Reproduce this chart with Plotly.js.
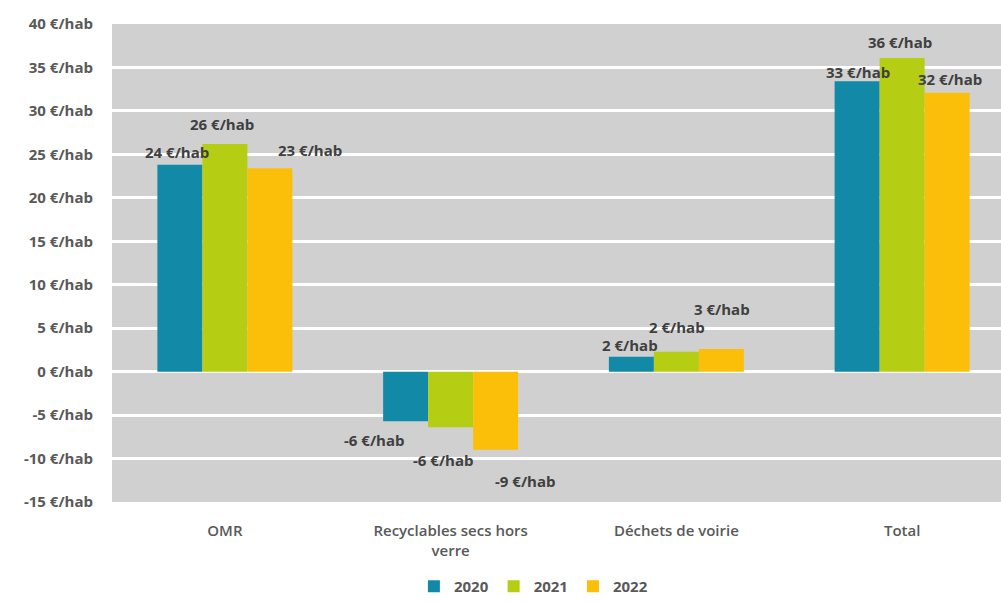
<!DOCTYPE html>
<html>
<head>
<meta charset="utf-8">
<script src="https://cdn.plot.ly/plotly-3.0.1.min.js"></script>
<style>
html,body{margin:0;padding:0;background:#fff;overflow:hidden;}
#chart{width:1016px;height:603px;}
</style>
</head>
<body>
<div id="chart"></div>
<script>
// ---- data ----
const categories = ["OMR", "Recyclables secs hors<br>verre", "Déchets de voirie", "Total"];
const years = ["2020", "2021", "2022"];
const values2020 = [23.8, -5.7, 1.7, 33.4];
const values2021 = [26.2, -6.4, 2.3, 36.1];
const values2022 = [23.4, -9.0, 2.6, 32.1];
const yTicks = [-15, -10, -5, 0, 5, 10, 15, 20, 25, 30, 35, 40];
const unit = " €/hab";

// ---- style ----
const colors = ["#1189a7", "#b5cd12", "#fbbf0a"];
const labelColor = "#404040";
const tickColor = "#595959";
const fontFam = "'Open Sans', 'Noto Sans', sans-serif";
// label offsets in pixels (series x category): [dx, dy]
const labelShift = [
  [[-48, 13], [-77, -19], [-46, 12], [-44, 9]],
  [[-3, 20], [-8, -33], [1, 25], [-2, 16]],
  [[85, 18], [74, -31], [46, 40], [48, 14]]
];

const series = [values2020, values2021, values2022];
const traces = series.map((vals, i) => ({
  type: "bar",
  name: years[i],
  x: categories,
  y: vals,
  marker: {color: colors[i]},
  hoverinfo: "skip"
}));

const annotations = [];
series.forEach((vals, i) => {
  vals.forEach((v, j) => {
    annotations.push({
      xref: "x", yref: "y",
      x: categories[j], y: v,
      text: Math.round(v) + unit,
      showarrow: false,
      xanchor: "center", yanchor: "middle",
      xshift: labelShift[i][j][0],
      yshift: labelShift[i][j][1],
      font: {family: fontFam, size: 15, color: labelColor, weight: 700}
    });
  });
});

const layout = {
  width: 1016,
  height: 603,
  margin: {l: 112, r: 1, t: 24, b: 101, autoexpand: false},
  paper_bgcolor: "#ffffff",
  plot_bgcolor: "#d0d0d0",
  barmode: "group",
  bargap: 0.402,
  bargroupgap: 0,
  showlegend: true,
  legend: {
    orientation: "h",
    xref: "container", yref: "container",
    x: 0.525, xanchor: "center",
    y: -0.008, yanchor: "bottom",
    font: {family: fontFam, size: 15, color: tickColor, weight: 700},
    itemwidth: 30,
    traceorder: "normal"
  },
  xaxis: {
    type: "category",
    automargin: false,
    showgrid: false,
    zeroline: false,
    showline: false,
    ticks: "",
    ticklabelstandoff: 18,
    tickfont: {family: fontFam, size: 15, color: tickColor, weight: 600}
  },
  yaxis: {
    automargin: false,
    range: [-15, 40],
    tickvals: yTicks,
    ticktext: yTicks.map(v => v + unit),
    showgrid: true,
    gridcolor: "#ffffff",
    gridwidth: 3,
    zeroline: false,
    showline: false,
    ticks: "",
    ticklabelstandoff: 18,
    tickfont: {family: fontFam, size: 15, color: tickColor, weight: 700}
  },
  annotations: annotations,
  font: {family: fontFam}
};

Plotly.newPlot("chart", traces, layout, {staticPlot: true, displayModeBar: false});
</script>
</body>
</html>
